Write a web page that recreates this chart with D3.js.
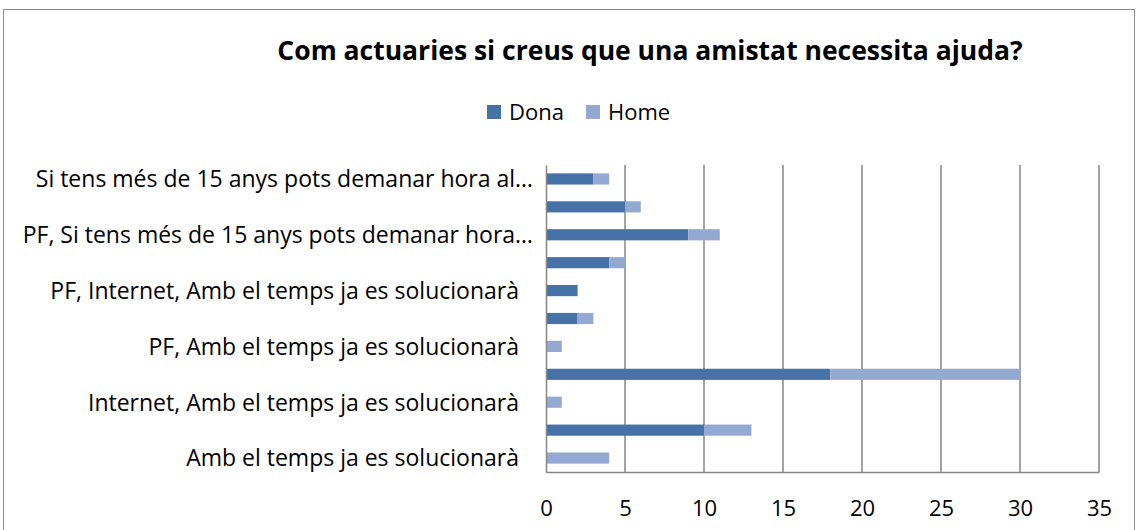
<!DOCTYPE html>
<html lang="ca">
<head>
<meta charset="UTF-8">
<title>Com actuaries si creus que una amistat necessita ajuda?</title>
<script src="https://d3js.org/d3.v7.min.js"></script>
<style>
    body{ margin:0; background:#fff; }
    svg text{ font-family: "Open Sans", Lato, sans-serif; fill:#000; }
</style>
</head>
<body>
<svg id="canvas" width="1137" height="530"></svg>
<script>
    // categories, bottom to top (only every other label is shown, as in the original)
    const categories = [
        "Amb el temps ja es solucionarà",
        "Internet",
        "Internet, Amb el temps ja es solucionarà",
        "PF",
        "PF, Amb el temps ja es solucionarà",
        "PF, Internet",
        "PF, Internet, Amb el temps ja es solucionarà",
        "PF, Internet, Si tens més de 15 anys pots demanar hora…",
        "PF, Si tens més de 15 anys pots demanar hora…",
        "PF, Si tens més de 15 anys pots demanar hora al…",
        "Si tens més de 15 anys pots demanar hora al…"
    ];
    const dona = [0, 10, 0, 18, 0, 2, 2, 4, 9, 5, 3];
    const home = [4, 3, 1, 12, 1, 1, 0, 1, 2, 1, 1];
    const seriesNames = ["Dona", "Home"];
    const xTicks = [0, 5, 10, 15, 20, 25, 30, 35];

    const colors = {Dona: "#4672a8", Home: "#93a9d1"};
    const font = "'Open Sans', Lato, sans-serif";

    const svg = d3.select("#canvas");

    // outer chart border
    svg.append("rect")
        .attr("x", 3.5).attr("y", 9.5)
        .attr("width", 1131).attr("height", 540)
        .attr("fill", "none").attr("stroke", "#8c8c8c").attr("stroke-width", 1);

    const plot = {left: 546, right: 1099, top: 165, bottom: 472};

    const x = d3.scaleLinear().domain([0, 35]).range([plot.left, plot.right]);
    const y = d3.scaleBand()
        .domain(categories)
        .range([plot.bottom, plot.top])
        .paddingInner(0.6).paddingOuter(0.3);

    // title
    svg.append("text")
        .attr("x", 650).attr("y", 60)
        .attr("text-anchor", "middle")
        .attr("font-size", 26.5).attr("font-weight", "bold")
        .text("Com actuaries si creus que una amistat necessita ajuda?");

    // legend
    const legend = svg.append("g");
    const legendX = [487, 586];
    seriesNames.forEach((s, i) => {
        legend.append("rect")
            .attr("x", legendX[i]).attr("y", 105)
            .attr("width", 14).attr("height", 14)
            .attr("fill", colors[s]);
        legend.append("text")
            .attr("x", legendX[i] + 22).attr("y", 120)
            .attr("font-size", 22)
            .text(s);
    });

    // gridlines
    svg.append("g")
        .selectAll("line")
        .data(xTicks.slice(1))
        .join("line")
        .attr("x1", d => x(d)).attr("x2", d => x(d))
        .attr("y1", plot.top).attr("y2", plot.bottom)
        .attr("stroke", "#868686").attr("stroke-width", 1.5);

    // stacked bars
    const table = categories.map((c, i) => ({cat: c, Dona: dona[i], Home: home[i]}));
    const stack = d3.stack().keys(seriesNames)(table);

    svg.append("g")
        .selectAll("g")
        .data(stack)
        .join("g")
        .attr("fill", d => colors[d.key])
        .selectAll("rect")
        .data(d => d)
        .join("rect")
        .attr("x", d => x(d[0]))
        .attr("y", d => y(d.data.cat))
        .attr("width", d => x(d[1]) - x(d[0]))
        .attr("height", y.bandwidth());

    // x axis
    const xAxis = svg.append("g")
        .attr("transform", `translate(0,${plot.bottom})`)
        .call(d3.axisBottom(x).tickValues(xTicks).tickSize(0).tickPadding(28));
    xAxis.select(".domain").attr("stroke", "#868686").attr("stroke-width", 1.5);
    xAxis.selectAll("text").attr("font-size", 22).attr("font-family", font).attr("fill", "#000");

    // y axis
    const yAxis = svg.append("g")
        .attr("transform", `translate(${plot.left},0)`)
        .call(d3.axisLeft(y).tickSize(0).tickPadding(27));
    yAxis.select(".domain").attr("stroke", "#868686").attr("stroke-width", 1.5);
    yAxis.selectAll(".tick")
        .filter((d, i) => i % 2 === 1)
        .remove();
    yAxis.selectAll("text")
        .attr("font-size", 23).attr("font-family", font).attr("fill", "#000")
        .attr("dy", "0.36em")
        .attr("dx", d => d.endsWith("…") ? 14 : 0);
</script>
</body>
</html>
